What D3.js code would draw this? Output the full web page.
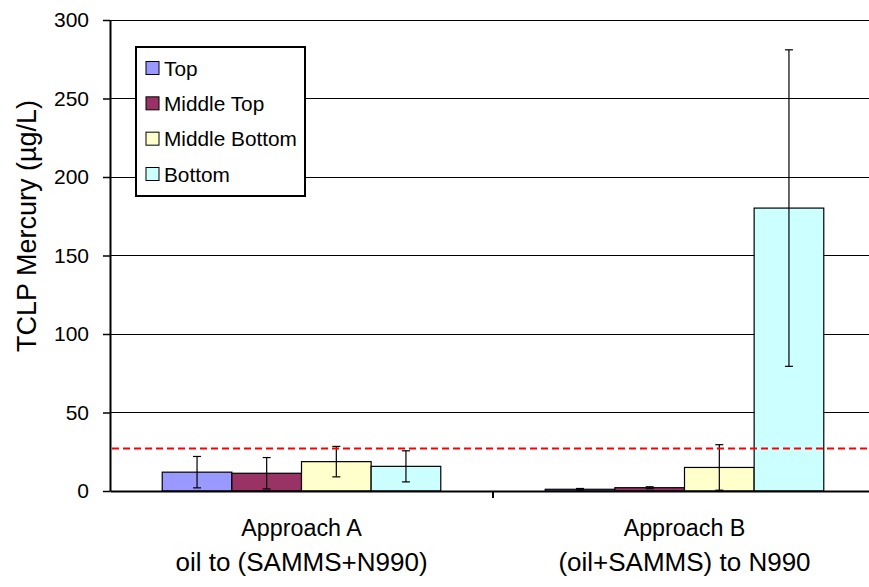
<!DOCTYPE html>
<html>
<head>
<meta charset="utf-8">
<script src="https://cdn.jsdelivr.net/npm/d3@7"></script>
<style>
  html, body { margin: 0; padding: 0; background: #fff; }
  svg { display: block; font-family: "Liberation Sans", Arial, sans-serif; }
</style>
</head>
<body>
<svg id="chart" width="869" height="587"></svg>
<script>
// Sample positions in the column, one bar per position within each approach
const series = ["Top", "Middle Top", "Middle Bottom", "Bottom"];
const seriesColors = ["#9999FF", "#993366", "#FFFFCC", "#CCFFFF"];

// Mixing approaches (two-line category labels)
const categories = ["Approach A", "Approach B"];
const categorySubtitles = ["oil to (SAMMS+N990)", "(oil+SAMMS) to N990"];

// Mean TCLP mercury (µg/L) per approach, ordered as in `series`
const approachAValues = [12, 11.3, 18.7, 15.7];
const approachBValues = [1.1, 2.1, 15, 180.2];

// Standard deviations drawn as error bars
const approachAErrors = [10, 10, 9.7, 9.9];
const approachBErrors = [0.5, 0.6, 14.5, 100.8];

// Regulatory reference level (dashed red line)
const limitValue = 27;

// Y axis ticks
const yTicks = [0, 50, 100, 150, 200, 250, 300];

const values = [approachAValues, approachBValues];
const errors = [approachAErrors, approachBErrors];

const svg = d3.select("#chart");
const plot = { left: 110, right: 876, top: 20, bottom: 491 };

const y = d3.scaleLinear().domain([0, 300]).range([plot.bottom, plot.top]);
const x0 = d3.scaleBand().domain(categories).range([plot.left, plot.right]).padding(0);
const x1 = d3.scaleBand().domain(series).range([0, x0.bandwidth()])
  .paddingInner(0).paddingOuter(0.75);
const color = d3.scaleOrdinal().domain(series).range(seriesColors);

// Horizontal gridlines
svg.append("g")
  .selectAll("line")
  .data(yTicks.filter(t => t > 0))
  .join("line")
  .attr("x1", plot.left).attr("x2", plot.right)
  .attr("y1", d => y(d)).attr("y2", d => y(d))
  .attr("stroke", "#000").attr("stroke-width", 1)
  .attr("shape-rendering", "crispEdges");

// Bars
const rows = [];
categories.forEach((c, ci) => {
  series.forEach((s, si) => {
    rows.push({ cat: c, ser: s, value: values[ci][si], err: errors[ci][si] });
  });
});

svg.append("g")
  .selectAll("rect")
  .data(rows)
  .join("rect")
  .attr("x", d => x0(d.cat) + x1(d.ser))
  .attr("y", d => y(d.value))
  .attr("width", x1.bandwidth())
  .attr("height", d => y(0) - y(d.value))
  .attr("fill", d => color(d.ser))
  .attr("stroke", "#000")
  .attr("stroke-width", 1.2);

// Error bars
const eb = svg.append("g").attr("stroke", "#000").attr("stroke-width", 1.2);
rows.forEach(d => {
  const cx = x0(d.cat) + x1(d.ser) + x1.bandwidth() / 2;
  const lo = Math.max(0, d.value - d.err);
  const hi = d.value + d.err;
  eb.append("line").attr("x1", cx).attr("x2", cx).attr("y1", y(lo)).attr("y2", y(hi));
  eb.append("line").attr("x1", cx - 4).attr("x2", cx + 4).attr("y1", y(hi)).attr("y2", y(hi));
  eb.append("line").attr("x1", cx - 4).attr("x2", cx + 4).attr("y1", y(lo)).attr("y2", y(lo));
});

// Reference limit line
svg.append("line")
  .attr("x1", plot.left + 2).attr("x2", plot.right)
  .attr("y1", y(limitValue)).attr("y2", y(limitValue))
  .attr("stroke", "#FF0000").attr("stroke-width", 2)
  .attr("stroke-dasharray", "7,4");

// Y axis
const yAxis = svg.append("g")
  .attr("transform", `translate(${plot.left},0)`)
  .call(d3.axisLeft(y).tickValues(yTicks).tickSize(7).tickPadding(14).tickSizeOuter(0));
yAxis.select(".domain").attr("stroke", "#000").attr("stroke-width", 2);
yAxis.selectAll(".tick line").attr("stroke", "#000").attr("stroke-width", 1.5);
yAxis.selectAll(".tick text")
  .attr("font-family", "'Liberation Sans', Arial, sans-serif")
  .attr("font-size", 21).attr("fill", "#000");

// X axis
const xAxis = svg.append("g")
  .attr("transform", `translate(0,${plot.bottom})`)
  .call(d3.axisBottom(x0).tickSize(0).tickFormat(""));
xAxis.select(".domain").attr("stroke", "#000").attr("stroke-width", 2);
xAxis.selectAll(".tick").remove();
// Boundary ticks between categories
svg.append("g")
  .selectAll("line")
  .data(categories.slice(1))
  .join("line")
  .attr("x1", d => x0(d)).attr("x2", d => x0(d))
  .attr("y1", plot.bottom).attr("y2", plot.bottom + 7)
  .attr("stroke", "#000").attr("stroke-width", 2);

// Category labels
const catLabels = svg.append("g").attr("fill", "#000").attr("text-anchor", "middle");
categories.forEach((c, i) => {
  const cx = x0(c) + x0.bandwidth() / 2;
  catLabels.append("text").attr("x", cx).attr("y", 536).attr("font-size", 23.3).text(c);
  catLabels.append("text").attr("x", cx).attr("y", 571).attr("font-size", 26).text(categorySubtitles[i]);
});

// Y axis title
svg.append("text")
  .attr("transform", "translate(36,226) rotate(-90)")
  .attr("text-anchor", "middle")
  .attr("font-size", 27)
  .attr("fill", "#000")
  .text("TCLP Mercury (µg/L)");

// Legend
const legend = svg.append("g");
legend.append("rect")
  .attr("x", 136).attr("y", 47).attr("width", 169).attr("height", 149)
  .attr("fill", "#fff").attr("stroke", "#000").attr("stroke-width", 2);
const legendRowY = d3.scalePoint().domain(series).range([68, 174]);
series.forEach(s => {
  const cy = legendRowY(s);
  legend.append("rect")
    .attr("x", 146).attr("y", cy - 6.5).attr("width", 13).attr("height", 13)
    .attr("fill", color(s)).attr("stroke", "#000").attr("stroke-width", 1);
  legend.append("text")
    .attr("x", 164).attr("y", cy + 7.5)
    .attr("font-size", 20.8).attr("fill", "#000")
    .text(s);
});
</script>
</body>
</html>
